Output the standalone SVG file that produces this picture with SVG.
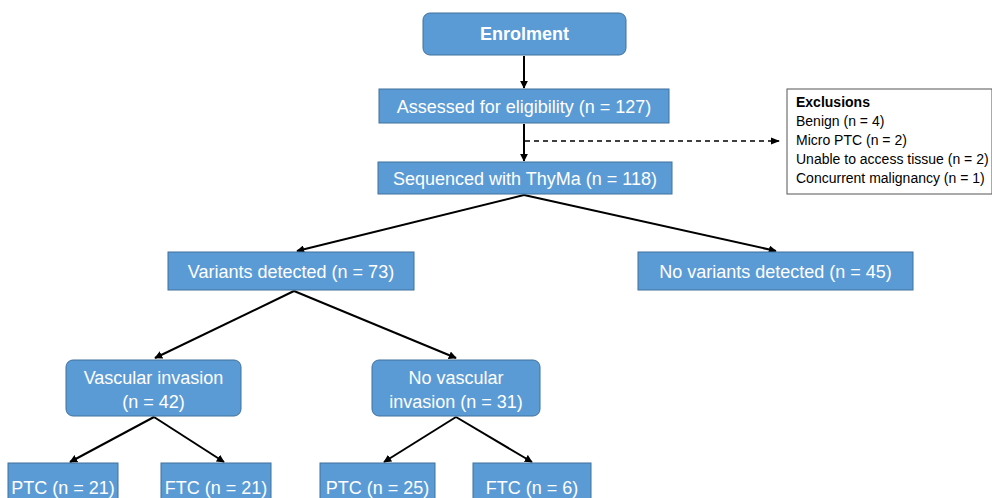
<svg xmlns="http://www.w3.org/2000/svg" width="992" height="498" viewBox="0 0 992 498">
<defs>
<marker id="ah" viewBox="0 0 10 10" refX="9" refY="5" markerWidth="4" markerHeight="4" orient="auto" markerUnits="strokeWidth">
<path d="M0,0 L10,5 L0,10 z" fill="#000"/>
</marker>
<marker id="ahs" viewBox="0 0 10 10" refX="9" refY="5" markerWidth="7" markerHeight="7" orient="auto" markerUnits="strokeWidth">
<path d="M0,1 L10,5 L0,9 z" fill="#000"/>
</marker>
</defs>
<style>
.box{fill:#5B9BD5;stroke:#41719C;stroke-width:1}
.t{fill:#fff;font-family:"Liberation Sans",Arial,sans-serif;font-size:18px;text-anchor:middle}
.b{font-weight:bold}
.ex{fill:#000;font-family:"Liberation Sans",Arial,sans-serif;font-size:14px}
.c{stroke:#000;stroke-width:2;fill:none}
.d{stroke:#000;stroke-width:1.3;fill:none;stroke-dasharray:5,4}
</style>
<rect width="992" height="498" fill="#fff"/>
<g id="connectors">
<line class="c" x1="524" y1="56" x2="524" y2="88" marker-end="url(#ah)"/>
<line class="c" x1="524" y1="124" x2="524" y2="161" marker-end="url(#ah)"/>
<line class="d" x1="525" y1="141" x2="779" y2="141" marker-end="url(#ahs)"/>
<line class="c" x1="524" y1="195" x2="297" y2="251" marker-end="url(#ah)"/>
<line class="c" x1="524" y1="195" x2="776" y2="251" marker-end="url(#ah)"/>
<line class="c" x1="294" y1="291" x2="155" y2="358" marker-end="url(#ah)"/>
<line class="c" x1="294" y1="291" x2="456" y2="358" marker-end="url(#ah)"/>
<line class="c" x1="154" y1="417" x2="70" y2="462" marker-end="url(#ah)"/>
<line class="c" x1="154" y1="417" x2="224" y2="462" marker-end="url(#ah)"/>
<line class="c" x1="456" y1="417" x2="384" y2="462" marker-end="url(#ah)"/>
<line class="c" x1="456" y1="417" x2="532" y2="462" marker-end="url(#ah)"/>
</g>
<g id="enrolment">
<rect class="box" x="423" y="13" width="203" height="42" rx="7"/>
<text class="t b" x="524.5" y="40">Enrolment</text>
</g>
<g id="assessed">
<rect class="box" x="379" y="89" width="290" height="34"/>
<text class="t" x="524" y="112.5">Assessed for eligibility (n = 127)</text>
</g>
<g id="exclusions">
<rect x="787" y="89" width="205" height="105" fill="#fff" stroke="#555" stroke-width="1"/>
<text class="ex" x="796" y="107" font-weight="bold">Exclusions</text>
<text class="ex" x="796" y="126">Benign (n = 4)</text>
<text class="ex" x="796" y="145">Micro PTC (n = 2)</text>
<text class="ex" x="796" y="164">Unable to access tissue (n = 2)</text>
<text class="ex" x="796" y="183">Concurrent malignancy (n = 1)</text>
</g>
<g id="sequenced">
<rect class="box" x="378" y="162" width="294" height="32"/>
<text class="t" x="525" y="184.5">Sequenced with ThyMa (n = 118)</text>
</g>
<g id="variants">
<rect class="box" x="168" y="252" width="246" height="38"/>
<text class="t" x="291" y="277.5">Variants detected (n = 73)</text>
</g>
<g id="novariants">
<rect class="box" x="638" y="252" width="275" height="38"/>
<text class="t" x="775.5" y="277.5">No variants detected (n = 45)</text>
</g>
<g id="vascular">
<rect class="box" x="66" y="360" width="175" height="56" rx="7"/>
<text class="t" x="153.5" y="383.5">Vascular invasion</text>
<text class="t" x="153.5" y="407.5">(n = 42)</text>
</g>
<g id="novascular">
<rect class="box" x="372" y="360" width="168" height="56" rx="7"/>
<text class="t" x="456" y="383.5">No vascular</text>
<text class="t" x="456" y="407.5">invasion (n = 31)</text>
</g>
<g id="ptc21">
<rect class="box" x="8" y="463" width="110" height="45"/>
<text class="t" x="63" y="493.5">PTC (n = 21)</text>
</g>
<g id="ftc21">
<rect class="box" x="161" y="463" width="110" height="45"/>
<text class="t" x="216" y="493.5">FTC (n = 21)</text>
</g>
<g id="ptc25">
<rect class="box" x="320" y="463" width="115" height="45"/>
<text class="t" x="377.5" y="493.5">PTC (n = 25)</text>
</g>
<g id="ftc6">
<rect class="box" x="473" y="463" width="118" height="45"/>
<text class="t" x="532" y="493.5">FTC (n = 6)</text>
</g>
</svg>
